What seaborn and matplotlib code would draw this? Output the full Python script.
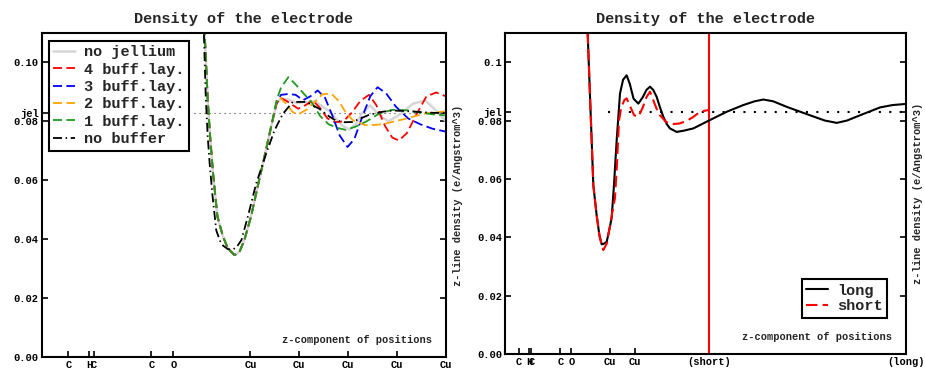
import matplotlib
matplotlib.use("Agg")
import matplotlib.pyplot as plt
import seaborn as sns

# ---------------- data ----------------
# z positions (Angstrom) of atoms used as x tick marks
atom_z = [1.1, 1.95, 2.15, 4.5, 5.4, 8.55, 10.55, 12.55, 14.55, 16.55]
atom_names = ["C", "H", "C", "C", "O", "Cu", "Cu", "Cu", "Cu", "Cu"]
short_end = 16.6
long_end = 32.6
jel = 0.0828

# density well shared by all jellium/buffer variants
dip_z = [6.45, 6.67, 6.74, 6.81, 6.91, 7.02, 7.13, 7.2, 7.43, 7.63, 7.9, 8.1,
         8.3, 8.57, 8.84, 9.12, 9.39]
dip_rho = [0.160, 0.111, 0.0984, 0.086, 0.0736, 0.0623, 0.0532, 0.0476, 0.0408,
           0.0368, 0.0346, 0.0357, 0.0397, 0.0476, 0.0577, 0.0679, 0.078]

nojel_z = [9.62, 9.8, 10.1, 10.45, 10.8, 11.2, 11.5, 11.8, 12.3, 12.6, 12.85, 13.1,
           13.45, 13.8, 14.2, 14.7, 15.2, 15.7, 16.1, 16.55]
nojel_rho = [0.0862, 0.0878, 0.0874, 0.0862, 0.0866, 0.0868, 0.0850, 0.0833, 0.0786,
             0.0772, 0.0790, 0.0826, 0.0854, 0.0822, 0.0800, 0.0825, 0.0860, 0.0871,
             0.0840, 0.0800]

buff4_z = [9.62, 9.78, 10.05, 10.5, 10.8, 11.1, 11.4, 11.7, 12.0, 12.35, 12.7, 13.05,
           13.4, 13.7, 14.05, 14.35, 14.62, 14.95, 15.35, 15.75, 16.15, 16.55]
buff4_rho = [0.0860, 0.0880, 0.0868, 0.0843, 0.0855, 0.0871, 0.0845, 0.0810, 0.0797,
             0.0800, 0.0830, 0.0870, 0.0890, 0.0855, 0.0785, 0.0745, 0.0735, 0.0760,
             0.0825, 0.0885, 0.0898, 0.0885]

buff3_z = [9.62, 9.8, 10.1, 10.4, 10.7, 11.0, 11.3, 11.6, 11.9, 12.2, 12.52, 12.8,
           13.1, 13.45, 13.75, 14.1, 14.5, 15.0, 15.5, 16.0, 16.55]
buff3_rho = [0.0865, 0.0890, 0.0893, 0.0890, 0.0872, 0.0885, 0.0905, 0.0880, 0.0820,
             0.0752, 0.0713, 0.0740, 0.0810, 0.0885, 0.0916, 0.0895, 0.0850, 0.0810,
             0.0790, 0.0775, 0.0765]

buff2_z = [9.62, 9.75, 10.0, 10.3, 10.55, 10.85, 11.1, 11.5, 11.85, 12.15, 12.45,
           12.75, 13.25, 13.7, 14.1, 14.9, 15.7, 16.55]
buff2_rho = [0.0868, 0.0882, 0.0860, 0.0830, 0.0826, 0.0840, 0.0860, 0.0892, 0.0895,
             0.0870, 0.0830, 0.0803, 0.0787, 0.0788, 0.0793, 0.0809, 0.0827, 0.0834]

buff1_z = [9.62, 9.8, 10.1, 10.4, 10.7, 11.05, 11.4, 11.75, 12.1, 12.45, 12.85, 13.3,
           13.8, 14.35, 14.9, 15.5, 16.0, 16.55]
buff1_rho = [0.0872, 0.0915, 0.0950, 0.0925, 0.0897, 0.0865, 0.0818, 0.0790, 0.0778,
             0.0771, 0.0782, 0.0800, 0.0826, 0.0839, 0.0838, 0.0830, 0.0824, 0.0820]

nobuf_z = [6.45, 6.64, 6.72, 6.8, 6.88, 7.0, 7.15, 7.3, 7.43, 7.63, 7.85, 8.0, 8.18,
           8.44, 8.78, 9.19, 9.53, 9.87, 10.28, 10.82, 11.36, 11.8, 12.04, 12.4,
           12.72, 13.0, 13.4, 13.9, 14.35, 14.9, 15.44, 16.0, 16.55]
nobuf_rho = [0.160, 0.111, 0.0882, 0.075, 0.0657, 0.0545, 0.043, 0.0395, 0.0378,
             0.0366, 0.0366, 0.0375, 0.0397, 0.0476, 0.0588, 0.0690, 0.0769, 0.0825,
             0.0866, 0.0866, 0.0843, 0.0815, 0.0803, 0.0797, 0.0798, 0.0808, 0.0822,
             0.0832, 0.0837, 0.0835, 0.0832, 0.0829, 0.0828]

long_z = [6.45, 6.72, 7.18, 7.45, 7.67, 7.86, 8.05, 8.27, 8.5, 8.67, 8.86, 9.08,
          9.35, 9.6, 9.89, 10.15, 10.45, 10.84, 11.2, 11.5, 11.79, 12.05, 12.33,
          12.6, 12.87, 13.15, 13.41, 13.96, 14.5, 15.31, 16.53, 18.02, 19.37, 20.3,
          21.0, 21.8, 22.9, 24.8, 26.0, 26.97, 27.8, 28.86, 30.49, 31.5, 32.6]
long_rho = [0.140, 0.110, 0.0579, 0.0476, 0.0408, 0.0376, 0.0378, 0.0385, 0.0430,
            0.0466, 0.0579, 0.0733, 0.0893, 0.0940, 0.0955, 0.0925, 0.0875, 0.0858,
            0.0880, 0.0905, 0.0916, 0.0905, 0.0881, 0.0845, 0.0813, 0.0788, 0.0773,
            0.0761, 0.0765, 0.0773, 0.0799, 0.0830, 0.0853, 0.0866, 0.0872, 0.0866,
            0.0847, 0.0818, 0.0800, 0.0792, 0.0800, 0.0818, 0.0845, 0.0853, 0.0857]

short_z = [6.45, 6.72, 7.18, 7.45, 7.7, 7.99, 8.29, 8.7, 8.94, 9.1, 9.27, 9.45, 9.7,
           9.89, 10.16, 10.5, 10.84, 11.2, 11.5, 11.79, 12.05, 12.33, 12.6, 13.1,
           13.68, 14.2, 14.77, 15.3, 15.85, 16.53]
short_rho = [0.140, 0.110, 0.0579, 0.0476, 0.0400, 0.0356, 0.0380, 0.0480, 0.0534,
             0.0650, 0.0800, 0.0845, 0.0870, 0.0876, 0.0850, 0.0818, 0.0813, 0.0845,
             0.0880, 0.0899, 0.0870, 0.0840, 0.0818, 0.0795, 0.0788, 0.0790, 0.0799,
             0.0812, 0.0830, 0.0836]

# ---------------- style ----------------
sns.set_theme(style="white")
plt.rcParams["font.family"] = ["Liberation Mono", "DejaVu Sans Mono"]
plt.rcParams["font.weight"] = "bold"
plt.rcParams["axes.linewidth"] = 1.5
plt.rcParams["axes.edgecolor"] = "black"

fig = plt.figure(figsize=(9.25, 3.7), dpi=100)
ax1 = fig.add_axes([41.5 / 925, 13 / 370, 404.5 / 925, 324 / 370])
ax2 = fig.add_axes([505 / 925, 16 / 370, 401 / 925, 321 / 370])

tick_fs = 7.5


def frame(ax, xmax, xticks, xlabels, top_label):
    ax.set_xlim(0, xmax)
    ax.set_ylim(0, 0.11)
    yt = [0.0, 0.02, 0.04, 0.06, 0.08, jel, 0.10]
    ax.set_yticks(yt)
    ax.set_yticklabels(["0.00", "0.02", "0.04", "0.06", "0.08", "jel", top_label])
    ax.set_xticks(xticks)
    ax.set_xticklabels(xlabels)
    ax.tick_params(axis="both", which="both", direction="in", length=4, width=1.2,
                   labelsize=tick_fs, colors="black", pad=2)
    ax.tick_params(axis="y", left=True, right=True, labelleft=True, labelright=False)
    ax.tick_params(axis="x", bottom=True, top=False)
    for lab in ax.get_xticklabels() + ax.get_yticklabels():
        lab.set_fontweight("bold")
    ax.yaxis.set_label_position("right")
    ax.set_ylabel("z-line density (e/Angstrom^3)", fontsize=tick_fs,
                  fontweight="bold", labelpad=5)
    ax.set_xlabel("")
    ax.set_title("Density of the electrode", fontsize=11, fontweight="bold", pad=7)
    ax.text(0.966, 0.037, "z-component of positions", transform=ax.transAxes,
            ha="right", va="bottom", fontsize=tick_fs, fontweight="bold")
    for s in ax.spines.values():
        s.set_color("black")
        s.set_linewidth(1.5)


# ---------------- left panel ----------------
ax1.plot([6.23, 16.55], [jel, jel], color="#444444", lw=0.8,
         linestyle=(0, (1, 3.5)), zorder=1)

series = [
    (dip_z + nojel_z, dip_rho + nojel_rho, "#d6d6d6", "-", 1.8, "no jellium"),
    (dip_z + buff4_z, dip_rho + buff4_rho, "#ff0000", (0, (5, 2.4)), 1.3, "4 buff.lay."),
    (dip_z + buff3_z, dip_rho + buff3_rho, "#0000ff", (0, (5, 2.4)), 1.3, "3 buff.lay."),
    (dip_z + buff2_z, dip_rho + buff2_rho, "#ffa500", (0, (5, 2.4)), 1.3, "2 buff.lay."),
    (dip_z + buff1_z, dip_rho + buff1_rho, "#1f9a1f", (0, (5, 2.4)), 1.3, "1 buff.lay."),
    (nobuf_z, nobuf_rho, "#000000", (0, (5, 2, 0.8, 2)), 1.3, "no buffer"),
]
for z, rho, col, ls, lw, lab in series:
    sns.lineplot(x=z, y=rho, ax=ax1, color=col, linestyle=ls, lw=lw, label=lab,
                 sort=False, estimator=None)

frame(ax1, 16.55, atom_z, atom_names, "0.10")

leg1 = ax1.legend(loc="upper left", bbox_to_anchor=(0.018, 0.976), fontsize=11,
                  prop={"family": ["Liberation Mono"], "weight": "bold", "size": 11},
                  handlelength=1.4, handletextpad=0.6, labelspacing=0.22,
                  borderpad=0.3, borderaxespad=0.0, fancybox=False, framealpha=1)
leg1.get_frame().set_edgecolor("black")
leg1.get_frame().set_linewidth(1.5)

# ---------------- right panel ----------------
ax2.plot([8.37, long_end], [jel, jel], color="black", lw=1.5,
         linestyle=(0, (1, 4)), zorder=1)
ax2.axvline(short_end, color="#ff0000", lw=1.5, zorder=2)

sns.lineplot(x=long_z, y=long_rho, ax=ax2, color="black", lw=1.5, label="long",
             sort=False, estimator=None)
sns.lineplot(x=short_z, y=short_rho, ax=ax2, color="#ff0000", lw=1.5,
             linestyle=(0, (5.5, 2.5)), label="short", sort=False, estimator=None)

frame(ax2, long_end, atom_z[:7] + [short_end, long_end],
      atom_names[:7] + ["(short)", "(long)"], "0.1")

leg2 = ax2.legend(loc="lower right", bbox_to_anchor=(0.953, 0.112),
                  prop={"family": ["Liberation Mono"], "weight": "bold", "size": 11},
                  handlelength=1.4, handletextpad=0.6, labelspacing=0.12,
                  borderpad=0.3, borderaxespad=0.0, fancybox=False, framealpha=1)
leg2.get_frame().set_edgecolor("black")
leg2.get_frame().set_linewidth(1.5)

fig.savefig("out.png", dpi=100, facecolor="white")
